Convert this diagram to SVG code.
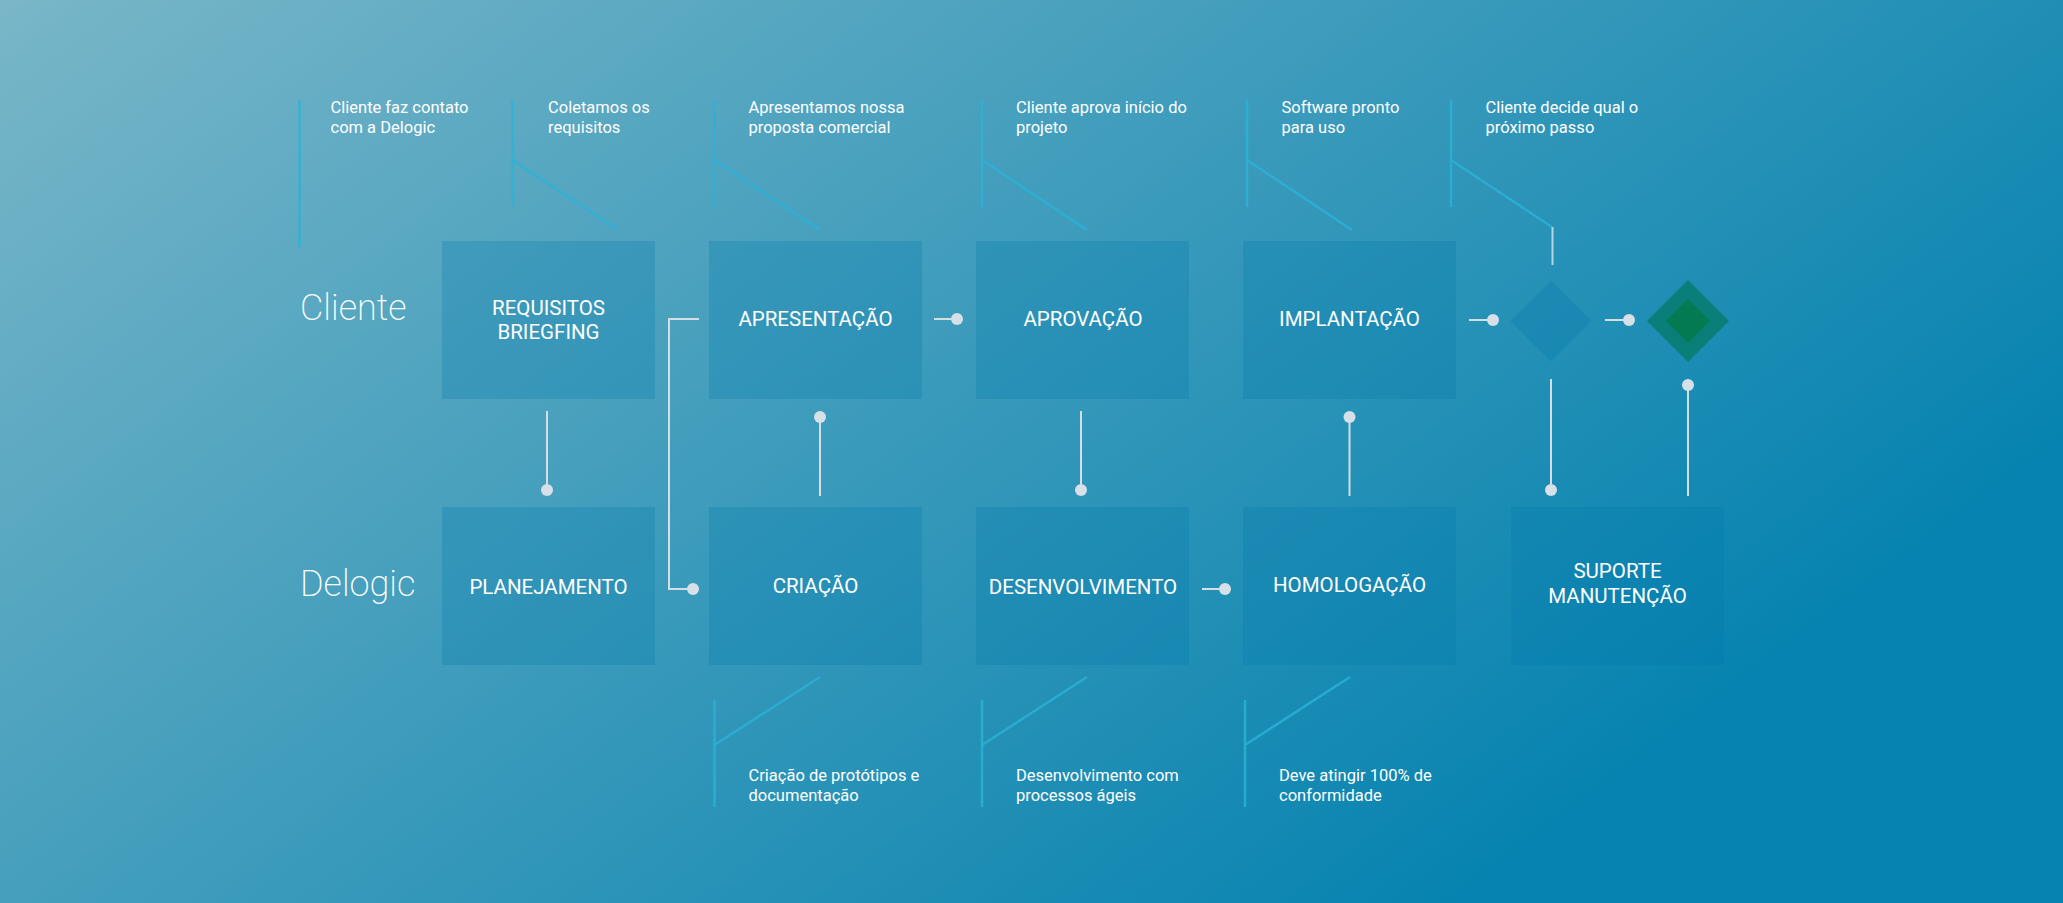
<svg xmlns="http://www.w3.org/2000/svg" width="2063" height="903" viewBox="0 0 2063 903">
<defs>
<linearGradient id="bg" gradientUnits="userSpaceOnUse" x1="0" y1="0" x2="972" y2="1278">
<stop offset="0" stop-color="#79b6c8"/>
<stop offset="1" stop-color="#0683b0"/>
</linearGradient>
<style>
.box{fill:#0078aa;fill-opacity:0.26}
.bt{font-family:Roboto,"Liberation Sans",sans-serif;font-size:20.5px;fill:#ffffff;text-anchor:middle}
.lane{font-family:Roboto,"Liberation Sans",sans-serif;font-size:36px;font-weight:200;fill:#ffffff}
.note{font-family:Roboto,"Liberation Sans",sans-serif;font-size:16.5px;fill:#ffffff}
.ann{fill:none;stroke:#2ab3d8;stroke-opacity:0.8;stroke-width:2.5}
.con{fill:none;stroke:#d3dfe5;stroke-width:2}
.dot{fill:#d6e0e6}
</style>
</defs>
<rect x="0" y="0" width="2063" height="903" fill="url(#bg)"/>

<g id="lanes">
<text class="lane" x="300" y="320">Cliente</text>
<text class="lane" x="300" y="596">Delogic</text>
</g>

<g id="annotations">
<path class="ann" d="M299.5,100 V247"/>
<text class="note" x="330.5" y="113">Cliente faz contato</text>
<text class="note" x="330.5" y="133">com a Delogic</text>

<path class="ann" d="M512.5,100 V207 M512.5,160 L618,230"/>
<text class="note" x="548" y="113">Coletamos os</text>
<text class="note" x="548" y="133">requisitos</text>

<path class="ann" d="M714.5,100 V207 M714.5,160 L820,230"/>
<text class="note" x="748.5" y="113">Apresentamos nossa</text>
<text class="note" x="748.5" y="133">proposta comercial</text>

<path class="ann" d="M982,100 V207 M982,160 L1087,230"/>
<text class="note" x="1016" y="113">Cliente aprova início do</text>
<text class="note" x="1016" y="133">projeto</text>

<path class="ann" d="M1247,100 V207 M1247,160 L1352,230"/>
<text class="note" x="1281.5" y="113">Software pronto</text>
<text class="note" x="1281.5" y="133">para uso</text>

<path class="ann" d="M1451,100 V207 M1451,160 L1552,227"/>
<path d="M1552.5,227 V265" fill="none" stroke="#b0d6e4" stroke-width="2"/>
<text class="note" x="1485.5" y="113">Cliente decide qual o</text>
<text class="note" x="1485.5" y="133">próximo passo</text>

<path class="ann" d="M714.5,700 V807 M714.5,745 L820,677"/>
<text class="note" x="748.5" y="781">Criação de protótipos e</text>
<text class="note" x="748.5" y="801">documentação</text>

<path class="ann" d="M982,700 V807 M982,745 L1087,677"/>
<text class="note" x="1016" y="781">Desenvolvimento com</text>
<text class="note" x="1016" y="801">processos ágeis</text>

<path class="ann" d="M1245,700 V807 M1245,745 L1350,677"/>
<text class="note" x="1279" y="781">Deve atingir 100% de</text>
<text class="note" x="1279" y="801">conformidade</text>
</g>

<g id="connectors">
<path class="con" d="M547,411 V490"/><circle class="dot" cx="547" cy="490" r="6"/>
<path class="con" d="M699,319 H669 V589 H693"/><circle class="dot" cx="693" cy="589" r="6"/>
<path class="con" d="M934,319 H957"/><circle class="dot" cx="957" cy="319" r="6"/>
<path class="con" d="M820,417 V496"/><circle class="dot" cx="820" cy="417" r="6"/>
<path class="con" d="M1081,411 V490"/><circle class="dot" cx="1081" cy="490" r="6"/>
<path class="con" d="M1202,589 H1225"/><circle class="dot" cx="1225" cy="589" r="6"/>
<path class="con" d="M1349.5,417 V496"/><circle class="dot" cx="1349.5" cy="417" r="6"/>
<path class="con" d="M1469,320 H1493"/><circle class="dot" cx="1493" cy="320" r="6"/>
<path class="con" d="M1605,320 H1629"/><circle class="dot" cx="1629" cy="320" r="6"/>
<path class="con" d="M1551,379 V490"/><circle class="dot" cx="1551" cy="490" r="6"/>
<path class="con" d="M1688,385 V496"/><circle class="dot" cx="1688" cy="385" r="6"/>
</g>

<g id="requisitos"><rect class="box" x="442" y="241" width="213" height="158"/>
<text class="bt" x="548.5" y="315">REQUISITOS</text><text class="bt" x="548.5" y="339">BRIEGFING</text></g>
<g id="apresentacao"><rect class="box" x="709" y="241" width="213" height="158"/>
<text class="bt" x="815.5" y="326">APRESENTAÇÃO</text></g>
<g id="aprovacao"><rect class="box" x="976" y="241" width="213" height="158"/>
<text class="bt" x="1083" y="326">APROVAÇÃO</text></g>
<g id="implantacao"><rect class="box" x="1243" y="241" width="213" height="158"/>
<text class="bt" x="1349.5" y="326">IMPLANTAÇÃO</text></g>

<g id="planejamento"><rect class="box" x="442" y="507" width="213" height="158"/>
<text class="bt" x="548.5" y="594">PLANEJAMENTO</text></g>
<g id="criacao"><rect class="box" x="709" y="507" width="213" height="158"/>
<text class="bt" x="815.5" y="593">CRIAÇÃO</text></g>
<g id="desenvolvimento"><rect class="box" x="976" y="507" width="213" height="158"/>
<text class="bt" x="1083" y="594">DESENVOLVIMENTO</text></g>
<g id="homologacao"><rect class="box" x="1243" y="507" width="213" height="158"/>
<text class="bt" x="1349.5" y="592">HOMOLOGAÇÃO</text></g>
<g id="suporte"><rect class="box" x="1511" y="507" width="213" height="158"/>
<text class="bt" x="1617.5" y="578">SUPORTE</text><text class="bt" x="1617.5" y="603">MANUTENÇÃO</text></g>

<g id="decisao"><path class="box" d="M1551,280.5 L1591.5,321 L1551,361.5 L1510.5,321 Z"/></g>
<g id="fim">
<path d="M1688,280 L1729,321 L1688,362 L1647,321 Z" fill="#0a7f7a"/>
<path d="M1688,299 L1710,321 L1688,343 L1666,321 Z" fill="#037a52"/>
</g>
</svg>
